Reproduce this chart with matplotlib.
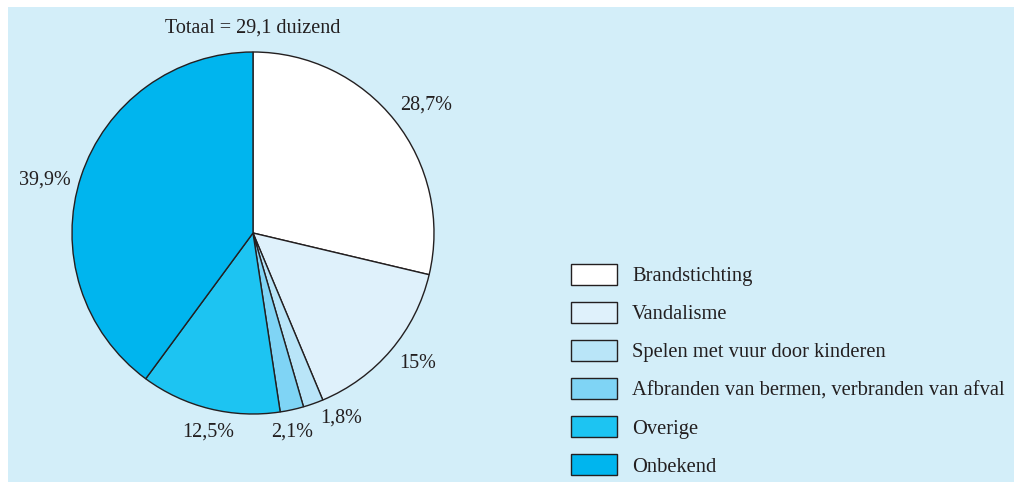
import matplotlib
matplotlib.use("Agg")
import matplotlib.pyplot as plt
from matplotlib.patches import Rectangle

categories = ["Brandstichting", "Vandalisme", "Spelen met vuur door kinderen",
              "Afbranden van bermen, verbranden van afval", "Overige", "Onbekend"]
values = [28.7, 15.0, 1.8, 2.1, 12.5, 39.9]
pct_labels = ["28,7%", "15%", "1,8%", "2,1%", "12,5%", "39,9%"]
colors = ["#ffffff", "#dff1fb", "#b9e5f8", "#7fd4f5", "#1dc4f2", "#00b5ee"]
title = "Totaal = 29,1 duizend"

W, H = 1014, 486
plt.rcParams['font.family'] = ['Liberation Serif', 'DejaVu Serif']
txt_color = "#231f20"
fig = plt.figure(figsize=(W / 100, H / 100), dpi=100)
fig.patch.set_facecolor("white")

# panel background
fig.patches.append(Rectangle((8 / W, 4 / H), (W - 8) / W, 475 / H, transform=fig.transFigure,
                             facecolor="#d3eef9", edgecolor="none", zorder=-10))

# pie axes: center (253,233) px, radius 181 px
cx, cy, R = 253, 233, 181
half = 1.4
ax = fig.add_axes([(cx - R * half) / W, (H - cy - R * half) / H, 2 * R * half / W, 2 * R * half / H])
ax.set_zorder(1)
ax.set_facecolor("none")
wedges, _ = ax.pie(values, colors=colors, startangle=90, counterclock=False, radius=1,
                   wedgeprops=dict(edgecolor=txt_color, linewidth=1.0))
ax.set_xlim(-half, half)
ax.set_ylim(-half, half)
ax.set_aspect("equal")
ax.axis("off")

lfs = 14.5
# label positions in px
label_px = [(426, 105), (418, 363), (341, 418), (292, 432), (208, 432), (45, 180)]
for (px, py), lab in zip(label_px, pct_labels):
    ax.text((px - cx) / R, (cy - py) / R, lab, ha="center", va="center",
            fontsize=lfs, color=txt_color)

fig.text(cx / W, 1 - 28 / H, title, ha="center", va="center", fontsize=lfs, color=txt_color)

fs = 14.8
em = fs * 100 / 72
leg = fig.legend(wedges, categories, loc="upper left",
                 bbox_to_anchor=(571 / W, 1 - 264 / H), bbox_transform=fig.transFigure,
                 frameon=False, fontsize=fs, borderpad=0, borderaxespad=0,
                 handlelength=46 / em, handleheight=24 / em,
                 labelspacing=15.8 / em, handletextpad=15 / em)
for t in leg.get_texts():
    t.set_color(txt_color)

fig.savefig("out.png", dpi=100)
